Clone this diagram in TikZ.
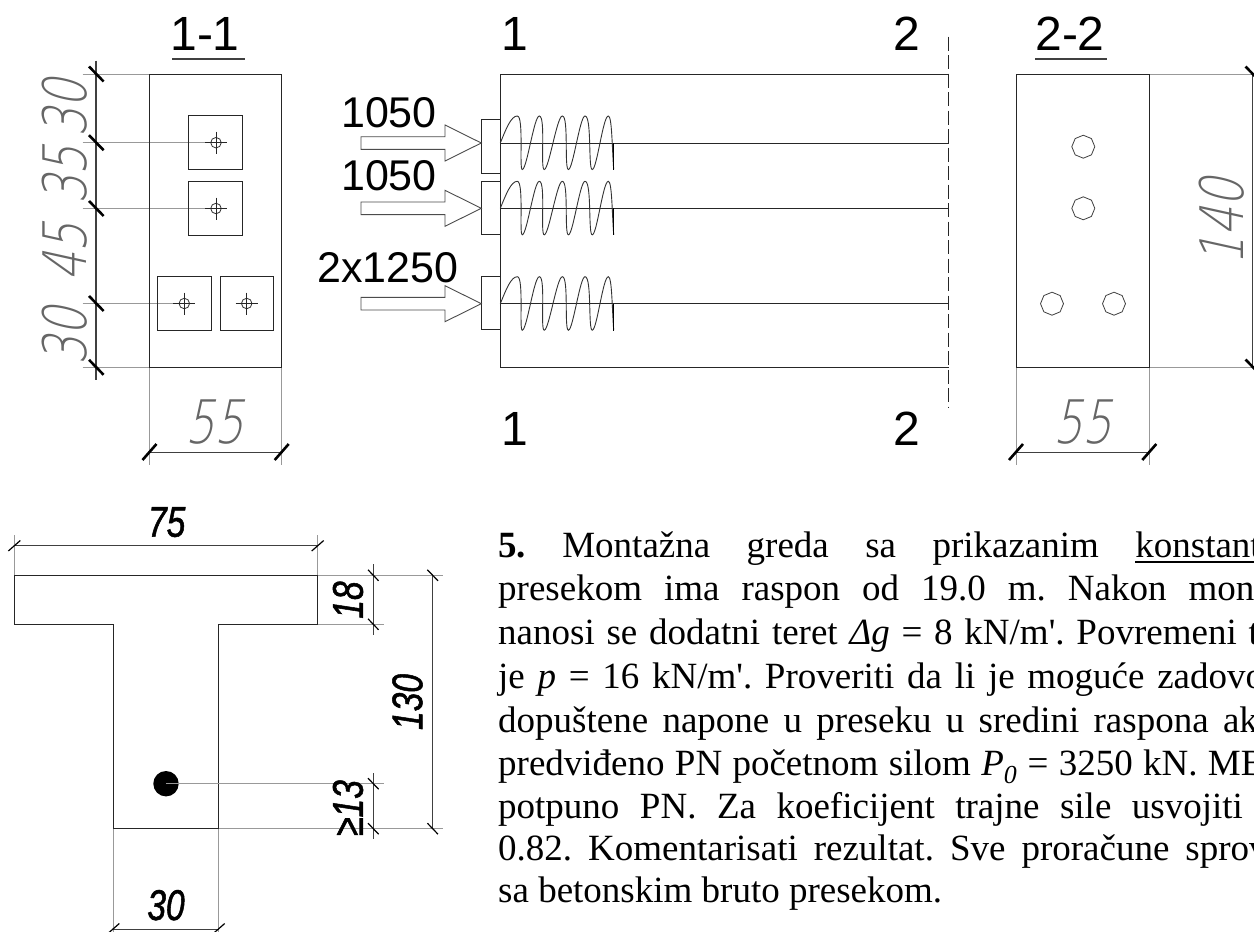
\documentclass[tikz,border=0pt]{standalone}
\usepackage{fontspec}
\usetikzlibrary{shapes.geometric}
\setmainfont{Liberation Serif}
\newfontfamily\labelfont{Liberation Sans}
\newfontfamily\thinfont[FakeSlant=0.22,FakeStretch=0.76]{DejaVu Sans ExtraLight}
\newfontfamily\boldfont[FakeStretch=0.78,FakeBold=1.2]{Liberation Sans}
\tikzset{
	outline/.style={black!85, line width=0.9pt},
	extline/.style={black!40, line width=0.8pt},
	dimline/.style={black!75, line width=0.9pt},
	thicktick/.style={black, line width=2.6pt},
	thintick/.style={black, line width=1.2pt},
	title/.style={inner sep=0pt, anchor=base, font=\fontsize{48}{48}\labelfont},
	force/.style={inner sep=0pt, anchor=base, font=\fontsize{43}{43}\labelfont},
	thindim/.style={inner sep=0pt, text=black!60, font=\fontsize{60}{60}\thinfont},
	bolddim/.style={inner sep=0pt, font=\fontsize{43}{43}\boldfont\itshape},
	textrow/.style={inner sep=0pt, anchor=base west, font=\fontsize{37}{37}\selectfont\frenchspacing},
	hole/.style={draw=black!75, line width=0.8pt, regular polygon, regular polygon sides=8, shape border rotate=22.5, minimum size=23pt, inner sep=0pt},
	anchorhole/.style={draw=black!80, line width=0.8pt, circle, minimum size=10.5pt, inner sep=0pt}
}
\begin{document}
\begin{tikzpicture}[x=1pt, y=-1pt, line cap=butt, line join=miter]
	\clip (0,0) rectangle (1254,932);
	\fill[white] (0,0) rectangle (1254,932);
	% section 1-1
	\node[title] (titleA) at (205,50) {1-1};
	\draw[dimline, line width=1.3pt] (172,59)--(245,59);
	\draw[extline] (82.7,74)--(149.5,74) (82.7,367.3)--(149.5,367.3);
	\draw[extline] (82.7,142.7)--(216,142.7) (82.7,208.5)--(216,208.5) (82.7,303.5)--(184.3,303.5);
	\draw[extline] (149.5,367.3)--(149.5,465) (281.7,367.3)--(281.7,465);
	\draw[outline] (149.5,74) rectangle (281.7,367.3);
	\draw[outline] (188.3,115.3) rectangle (242.3,169.3);
	\draw[outline] (188.3,181) rectangle (242.3,235);
	\draw[outline] (157.3,276) rectangle (211.3,330);
	\draw[outline] (220,276) rectangle (273.7,330);
	\foreach \ax/\ay/\aname in {216/142.7/a,216/208.5/b,184.3/303.5/c,246.7/303.5/d}{
		\node[anchorhole] (anchor\aname) at (\ax,\ay) {};
		\draw[black!85, line width=0.8pt] (\ax-11,\ay)--(\ax+11,\ay) (\ax,\ay-11)--(\ax,\ay+11);
	}
	\draw[dimline, line width=1.2pt] (96,60.7)--(96,380);
	\foreach \ty in {74,142.7,208.5,303.5,367.3}
		\draw[thicktick] (89,\ty-7.5)--++(14.6,15);
	\draw[dimline] (149.5,452)--(281.7,452);
	\foreach \tx in {149.5,281.7}
		\draw[thicktick] (\tx-7,460)--++(14,-16);
	\path (65,108) node[thindim, rotate=90] (dimAa) {30}
		(65,175) node[thindim, rotate=90] (dimAb) {35}
		(65,252) node[thindim, rotate=90] (dimAc) {45}
		(65,336) node[thindim, rotate=90] (dimAd) {30};
	\node[thindim, anchor=base] (dimAe) at (215,443) {55};
	% elevation
	\node[title] (oneTop) at (515,50) {1};
	\node[title] (twoTop) at (907,50) {2};
	\node[title] (oneBot) at (515,445) {1};
	\node[title] (twoBot) at (907,445) {2};
	\draw[outline] (948.7,74)--(500.3,74)--(500.3,367)--(948.7,367);
	\draw[black!85, line width=0.9pt, dash pattern=on 14pt off 4.5pt] (948.7,36.7)--(948.7,408);
	\foreach \cy/\ptop/\pbot in {143/119.3/173.3,208.3/181.3/234.7,303.7/276/329.3}{
		\draw[outline] (500.3,\ptop)--(481.3,\ptop)--(481.3,\pbot)--(500.3,\pbot);
		\draw[outline] (500.3,\cy)--(948.7,\cy);
		\draw[black!70, line width=0.9pt] (361,\cy-6.3)--(445,\cy-6.3)--(445,\cy-18)--(481.3,\cy)--(445,\cy+18)--(445,\cy+6.3)--(361,\cy+6.3)--cycle;
		\draw[black!80, line width=0.9pt] (500.3,\cy) .. controls (506,\cy-14) and (511,\cy-27) .. (517.3,\cy-27)
			.. controls (524,\cy-27) and (519,\cy+27) .. (522.3,\cy+26.5)
			.. controls (527,\cy+26) and (534,\cy-27) .. (539.3,\cy-27)
			.. controls (546,\cy-27) and (540,\cy+27) .. (544.3,\cy+26.5)
			.. controls (549,\cy+26) and (557,\cy-27) .. (562.3,\cy-27)
			.. controls (569,\cy-27) and (564,\cy+27) .. (568.5,\cy+26.5)
			.. controls (573,\cy+26) and (580,\cy-27) .. (585,\cy-27)
			.. controls (592,\cy-27) and (588,\cy+27) .. (592.3,\cy+26.5)
			.. controls (597,\cy+26) and (603,\cy-27) .. (608.3,\cy-27)
			.. controls (612,\cy-27) and (612,\cy+4) .. (613.7,\cy+26.5);
		\draw[black, line width=1pt] (613.7,\cy)--(613.7,\cy+27);
	}
	\node[force] (forceA) at (389,127.7) {1050};
	\node[force] (forceB) at (389,190) {1050};
	\node[force] (forceC) at (388,282.7) {2x1250};
	% section 2-2
	\node[title] (titleB) at (1070,50) {2-2};
	\draw[dimline, line width=1.3pt] (1035,59)--(1107.3,59);
	\draw[extline] (1149.3,74)--(1254,74) (1149.3,367)--(1254,367);
	\draw[extline] (1016,367)--(1016,465) (1149.3,367)--(1149.3,465);
	\draw[outline] (1016,74) rectangle (1149.3,367);
	\node[hole] (holeA) at (1083.3,146.7) {};
	\node[hole] (holeB) at (1083.3,208.3) {};
	\node[hole] (holeC) at (1052,303.7) {};
	\node[hole] (holeD) at (1114,303.7) {};
	\draw[dimline, line width=1.1pt] (1252.7,74)--(1252.7,367);
	\foreach \ty in {74,367}
		\draw[thicktick] (1245.5,\ty-7.5)--++(14.6,15);
	\draw[dimline] (1016,452)--(1149.3,452);
	\foreach \tx in {1016,1149.3}
		\draw[thicktick] (\tx-7,460)--++(14,-16);
	\node[thindim, rotate=90] (dimBa) at (1221.7,222) {140};
	\node[thindim, anchor=base] (dimBb) at (1082.7,443) {55};
	% T section
	\draw[extline] (14.3,535)--(14.3,575.3) (317.7,535)--(317.7,575.3);
	\draw[extline] (317.7,575.3)--(443.3,575.3) (317.7,624.3)--(384,624.3);
	\draw[extline] (166,783.7)--(384,783.7) (218.7,828.7)--(443.3,828.7);
	\draw[extline] (113.3,828.7)--(113.3,932) (218.7,828.7)--(218.7,932);
	\draw[outline] (14.3,575.3)--(317.7,575.3)--(317.7,624.3)--(218.7,624.3)--(218.7,828.7)--(113.3,828.7)--(113.3,624.3)--(14.3,624.3)--cycle;
	\node[circle, fill=black, minimum size=25.4pt, inner sep=0pt] (cable) at (166,783.7) {};
	\draw[extline] (166,783.7)--(218.7,783.7);
	\draw[dimline] (14.3,545.7)--(317.7,545.7);
	\draw[dimline] (373.3,564)--(373.3,635);
	\draw[dimline] (373.3,773.3)--(373.3,839.3);
	\draw[dimline] (432.7,575.3)--(432.7,828.7);
	\draw[dimline] (113.3,929)--(218.7,929);
	\foreach \tx in {14.3,317.7}
		\draw[thintick] (\tx-6,551)--++(12,-10.5);
	\foreach \tx in {113.3,218.7}
		\draw[thintick] (\tx-6,934)--++(12,-10.5);
	\foreach \ty in {575.3,624.3,783.7,828.7}
		\draw[thintick] (368,\ty-5.5)--++(10.6,11);
	\foreach \ty in {575.3,828.7}
		\draw[thintick] (427.4,\ty-5.5)--++(10.6,11);
	\node[bolddim, anchor=base] (dimCa) at (166.7,536.7) {75};
	\node[bolddim, anchor=base] (dimCb) at (166,920) {30};
	\node[bolddim, rotate=90] (dimCc) at (348,600) {18};
	\node[bolddim, rotate=90] (dimCd) at (407.5,702) {130};
	\node[bolddim, rotate=90] (dimCe) at (348,808) {≥13};
	% task text
	\node[textrow] (rowA) at (498,557) {\spaceskip=36.4pt \xspaceskip=36.4pt \textbf{5.} Montažna greda sa prikazanim konstant};
	\draw[black, line width=1.8pt] (1135,562)--(1254,562);
	\node[textrow] (rowB) at (498,600) {\spaceskip=22pt presekom ima raspon od 19.0 m. Nakon mon};
	\node[textrow] (rowC) at (498,644) {\spaceskip=11.8pt nanosi se dodatni teret \textit{Δg} = 8 kN/m\textquotesingle. Povremeni t};
	\node[textrow] (rowD) at (498,688) {\spaceskip=12.7pt je \textit{p} = 16 kN/m\textquotesingle. Proveriti da li je moguće zadovo};
	\node[textrow] (rowE) at (498,732) {\spaceskip=14.3pt dopuštene napone u preseku u sredini raspona ak};
	\node[textrow] (rowF) at (498,775) {\spaceskip=10.3pt predviđeno PN početnom silom \textit{P\textsubscript{0}} = 3250 kN. MB};
	\node[textrow] (rowG) at (498,818) {\spaceskip=20.5pt potpuno PN. Za koeficijent trajne sile usvojiti};
	\node[textrow] (rowH) at (498,860) {\spaceskip=16pt 0.82. Komentarisati rezultat. Sve proračune sprov};
	\node[textrow] (rowI) at (498,902) {sa betonskim bruto presekom.};
\end{tikzpicture}
\end{document}
